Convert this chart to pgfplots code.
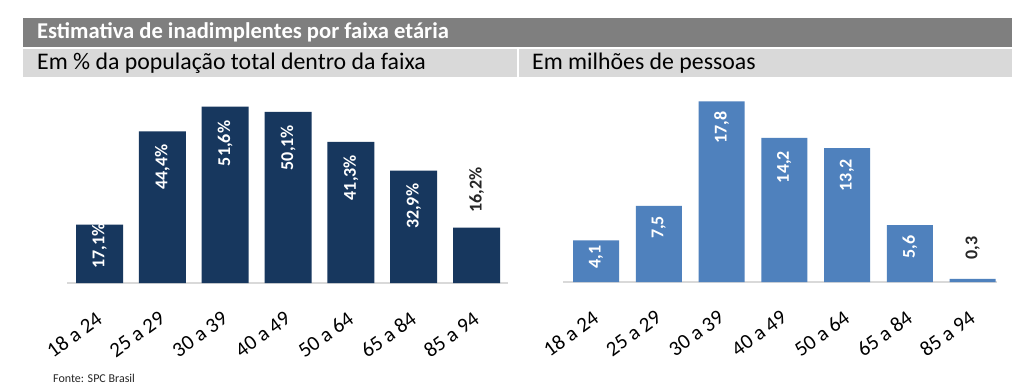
\documentclass[border=0pt]{standalone}
\usepackage{fontspec}
\setmainfont{Carlito}
\usepackage{pgfplots}
\pgfplotsset{compat=1.18}
\definecolor{navy}{HTML}{17375E}
\definecolor{lblue}{HTML}{4F81BD}
\definecolor{titlegray}{HTML}{7F7F7F}
\definecolor{subgray}{HTML}{D9D9D9}
\definecolor{basegray}{HTML}{D9D9D9}
\definecolor{darktext}{HTML}{262626}
\pgfplotsset{mybar/.style={
  scale only axis, height=190pt, ymin=0, clip=false, anchor=origin,
  axis x line=bottom, axis y line=none,
  x axis line style={draw=basegray, line width=1.5pt, -},
  xtick={0,1,2,3,4,5,6},
  xticklabels={18 a 24,25 a 29,30 a 39,40 a 49,50 a 64,65 a 84,85 a 94},
  xtick style={draw=none},
  xticklabel style={yshift=-31pt, rotate=36, anchor=east, inner sep=0pt,
    font=\fontsize{21}{23}\selectfont, text=black},
}}
\begin{document}
\begin{tikzpicture}
\useasboundingbox (0pt,0pt) rectangle (1024pt,391pt);
\fill[white] (0pt,0pt) rectangle (1024pt,391pt);
\fill[titlegray] (23pt,344pt) rectangle (1012pt,373pt);
\node[anchor=west,text=white,font=\fontsize{22.6}{24}\selectfont\bfseries,inner sep=0pt] at (37pt,358.5pt) {Estimativa de inadimplentes por faixa etária};
\fill[subgray] (23pt,314pt) rectangle (517pt,342pt);
\fill[subgray] (519pt,314pt) rectangle (1012pt,342pt);
\node[anchor=west,font=\fontsize{23.8}{25}\selectfont,inner sep=0pt] at (37pt,328pt) {Em \% da população total dentro da faixa};
\node[anchor=west,font=\fontsize{23.8}{25}\selectfont,inner sep=0pt] at (532pt,328pt) {Em milhões de pessoas};
\node[anchor=west,font=\fontsize{12}{13}\selectfont,inner sep=0pt,text=darktext] at (53pt,13pt) {Fonte: SPC Brasil};

\begin{axis}[mybar, at={(99.5pt,108pt)}, width=441pt, xmin=-0.517, xmax=6.5, ymax=55.6]
\addplot[ybar, bar shift=0pt, bar width=47pt, fill=navy, draw=none]
  coordinates {(0,17.1) (1,44.4) (2,51.6) (3,50.1) (4,41.3) (5,32.9) (6,16.2)};
\addplot[draw=none, mark=none, point meta=explicit symbolic, nodes near coords,
  visualization depends on={value \thisrow{dy}\as\dy},
  nodes near coords style={yshift=\dy pt, rotate=90, anchor=east, inner sep=0pt,
    text=white, font=\fontsize{18}{20}\selectfont\bfseries}]
  table[x=x,y=y,meta=lab,row sep=\\]{
  x y lab dy\\
  0 17.1 17,1\% 1.5\\
  1 44.4 44,4\% -13\\
  2 51.6 51,6\% -14\\
  3 50.1 50,1\% -13\\
  4 41.3 41,3\% -13\\
  5 32.9 32,9\% -13\\
  };
\addplot[draw=none, mark=none, point meta=explicit symbolic, nodes near coords,
  nodes near coords style={yshift=15pt, rotate=90, anchor=west, inner sep=0pt,
    text=darktext, font=\fontsize{18}{20}\selectfont\bfseries}]
  table[x=x,y=y,meta=lab,row sep=\\]{
  x y lab\\
  6 16.2 16,2\%\\
  };
\end{axis}

\begin{axis}[mybar, at={(596pt,109pt)}, width=434pt, xmin=-0.525, xmax=6.39, ymax=18.72]
\addplot[ybar, bar shift=0pt, bar width=46pt, fill=lblue, draw=none]
  coordinates {(0,4.1) (1,7.5) (2,17.8) (3,14.2) (4,13.2) (5,5.6) (6,0.3)};
\addplot[draw=none, mark=none, point meta=explicit symbolic, nodes near coords,
  visualization depends on={value \thisrow{dy}\as\dy},
  nodes near coords style={yshift=\dy pt, rotate=90, anchor=east, inner sep=0pt,
    text=white, font=\fontsize{18}{20}\selectfont\bfseries}]
  table[x=x,y=y,meta=lab,row sep=\\]{
  x y lab dy\\
  0 4.1 {4,1} -5\\
  1 7.5 {7,5} -10\\
  2 17.8 {17,8} -10\\
  3 14.2 {14,2} -13\\
  4 13.2 {13,2} -11\\
  5 5.6 {5,6} -10\\
  };
\addplot[draw=none, mark=none, point meta=explicit symbolic, nodes near coords,
  nodes near coords style={yshift=19pt, rotate=90, anchor=west, inner sep=0pt,
    text=darktext, font=\fontsize{18}{20}\selectfont\bfseries}]
  table[x=x,y=y,meta=lab,row sep=\\]{
  x y lab\\
  6 0.3 {0,3}\\
  };
\end{axis}
\end{tikzpicture}
\end{document}
